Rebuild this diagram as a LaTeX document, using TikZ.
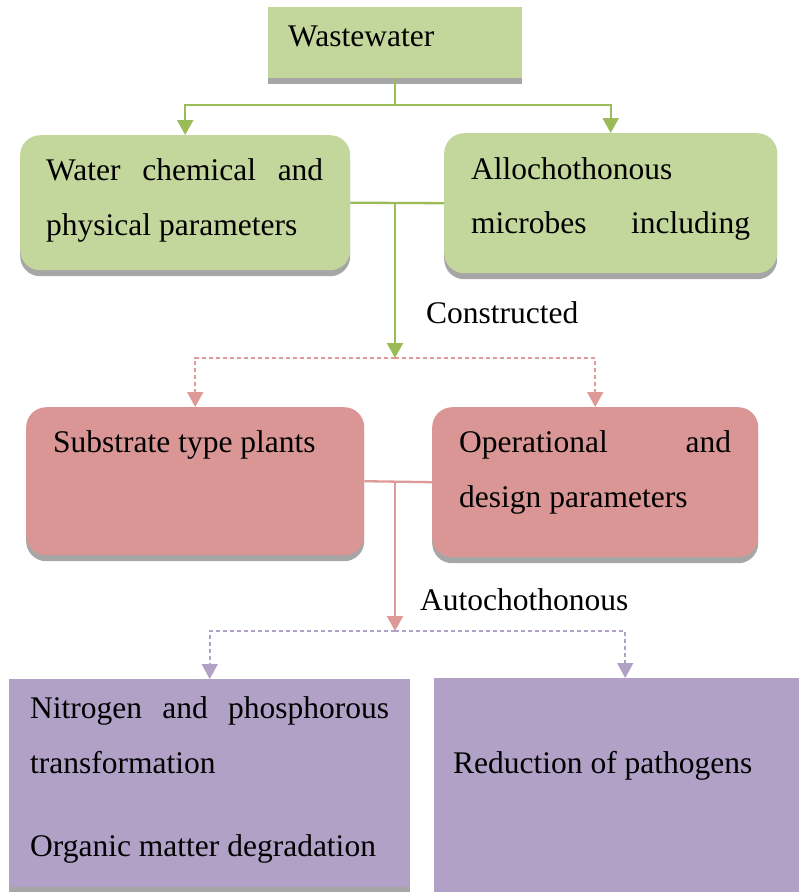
\documentclass[tikz,border=0pt]{standalone}
\usepackage{fontspec}
\setmainfont{Liberation Serif}
\usetikzlibrary{arrows.meta,shadows}
\definecolor{gfill}{HTML}{C3D69B}
\definecolor{gline}{HTML}{9BBB59}
\definecolor{pfill}{HTML}{D99694}
\definecolor{pline}{HTML}{DE9A98}
\definecolor{vfill}{HTML}{B2A1C7}
\definecolor{vline}{HTML}{B2A1C7}
\definecolor{shade}{HTML}{A6A6A6}
\tikzset{
  boxbase/.style={draw=none, inner sep=0pt, anchor=north west,
    drop shadow={shadow xshift=0pt, shadow yshift=-6pt, fill=shade, opacity=1}},
  gbox/.style={boxbase, fill=gfill},
  gbox rounded/.style={gbox, rounded corners=20pt},
  pbox/.style={boxbase, fill=pfill, rounded corners=20pt},
  vbox/.style={boxbase, fill=vfill},
  txt/.style={anchor=base west, inner sep=0pt, font=\fontsize{31.5}{37}\selectfont},
  tip/.style={-{Triangle[width=16pt,length=15pt]}},
  gconn/.style={draw=gline, line width=2.3pt},
  pconn/.style={draw=pline, line width=2.3pt},
  pdash/.style={draw=pline, line width=1.6pt, dash pattern=on 4pt off 3pt},
  vdash/.style={draw=vline, line width=1.6pt, dash pattern=on 4pt off 3pt},
}
\begin{document}
\begin{tikzpicture}[x=1pt,y=-1pt]
\useasboundingbox (0,0) rectangle (799,892);
% boxes
\node[gbox, minimum width=254pt, minimum height=71pt] (ww) at (268,7) {};
\node[gbox rounded, minimum width=330pt, minimum height=135pt] (wcp) at (20,135) {};
\node[gbox rounded, minimum width=333pt, minimum height=140pt] (amc) at (444,133) {};
\node[pbox, minimum width=338pt, minimum height=148pt] (stp) at (26,407) {};
\node[pbox, minimum width=326pt, minimum height=150pt] (odp) at (432,407) {};
\node[vbox, minimum width=401pt, minimum height=208pt] (ntr) at (9,679) {};
\node[vbox, minimum width=382pt, minimum height=230pt] (rop) at (434,678) {};
% texts
\node[txt] (t1) at (288,46) {Wastewater};
\node[txt] (t2) at (46,180) {\makebox[277pt][s]{Water chemical and}};
\node[txt] (t3) at (46,235) {physical parameters};
\node[txt] (t4) at (471,179) {Allochothonous};
\node[txt] (t5) at (471,233) {\makebox[279pt][s]{microbes including}};
\node[txt] (t6) at (426,323) {Constructed};
\node[txt] (t7) at (53,452) {Substrate type plants};
\node[txt] (t8) at (459,452) {\makebox[272pt][s]{Operational and}};
\node[txt] (t9) at (459,507) {design parameters};
\node[txt] (t10) at (420,610) {Autochothonous};
\node[txt] (t11) at (30,718) {\makebox[359pt][s]{Nitrogen and phosphorous}};
\node[txt] (t12) at (30,773) {transformation};
\node[txt] (t13) at (30,856) {Organic matter degradation};
\node[txt] (t14) at (453,773) {Reduction of pathogens};
% junctions
\coordinate (j1) at (395,105);
\coordinate (j2) at (395,202.5);
\coordinate (j3) at (395,358);
\coordinate (j4) at (395,481);
\coordinate (j5) at (395,631);
% connectors
\draw[gconn] (ww.south -| j1) -- (j1);
\draw[gconn, tip] (j1) -| (wcp.north);
\draw[gconn, tip] (j1) -| (amc.north);
\draw[gconn] (wcp.east) -- (amc.west);
\draw[gconn, tip] (j2) -- (j3);
\draw[pdash, tip] (j3) -| (stp.north);
\draw[pdash, tip] (j3) -| (odp.north);
\draw[pconn] (stp.east) -- (odp.west);
\draw[pconn, tip] (j4) -- (j5);
\draw[vdash, tip] (j5) -| (ntr.north);
\draw[vdash, tip] (j5) -| (rop.north);
\end{tikzpicture}
\end{document}
